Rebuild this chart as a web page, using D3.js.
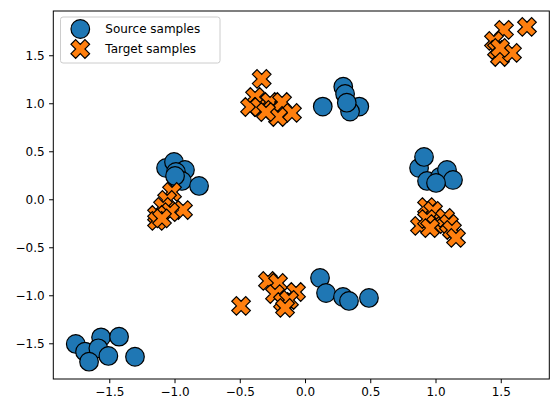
<!DOCTYPE html>
<html>
<head>
<meta charset="utf-8">
<script src="https://cdn.jsdelivr.net/npm/d3@7"></script>
<style>
  body { margin: 0; background: #fff; }
  svg { display: block; font-family: "DejaVu Sans", sans-serif; }
</style>
</head>
<body>
<svg id="chart" width="559" height="413"></svg>
<script>
// source samples (blue circles)
const sourceX = [-1.757, -1.563, -1.425, -1.686, -1.584, -1.507, -1.655, -1.303,
                 -1.065, -1.004, -0.920, -0.989, -0.973, -0.943, -0.812, -0.996,
                 0.136, 0.293, 0.307, 0.416, 0.345, 0.320,
                 0.874, 0.912, 0.935, 1.034, 1.088, 1.134, 1.004,
                 0.115, 0.161, 0.291, 0.337, 0.490];
const sourceY = [-1.507, -1.438, -1.431, -1.587, -1.552, -1.632, -1.692, -1.640,
                 0.326, 0.389, 0.305, 0.284, 0.211, 0.191, 0.139, 0.243,
                 0.965, 1.173, 1.097, 0.965, 0.913, 1.006,
                 0.326, 0.441, 0.191, 0.232, 0.305, 0.201, 0.170,
                 -0.820, -0.976, -1.018, -1.059, -1.028];

// target samples (orange X)
const targetX = [-1.019, -1.057, -1.088, -0.935, -1.034, -1.134, -1.134, -1.096,
                 -0.332, -0.383, -0.421, -0.345, -0.268, -0.245, -0.176, -0.100, -0.207, -0.299,
                 0.935, 0.981, 0.881, 0.935, 1.004, 1.073, 1.103, 1.126, 1.157, 0.958,
                 -0.490, -0.284, -0.207, -0.069, -0.230, -0.169, -0.123, -0.153,
                 1.701, 1.525, 1.448, 1.471, 1.494, 1.586, 1.494];
const targetY = [0.076, -0.007, -0.080, -0.112, -0.134, -0.164, -0.226, -0.200,
                 1.253, 1.065, 0.961, 0.961, 1.013, 0.930, 1.013, 0.899, 0.857, 0.909,
                 -0.081, -0.122, -0.278, -0.206, -0.258, -0.195, -0.257, -0.320, -0.403, -0.300,
                 -1.111, -0.851, -0.872, -0.966, -0.987, -1.070, -1.049, -1.132,
                 1.795, 1.764, 1.649, 1.555, 1.482, 1.524, 1.576];

const xTicks = [-1.5, -1.0, -0.5, 0.0, 0.5, 1.0, 1.5];
const yTicks = [-1.5, -1.0, -0.5, 0.0, 0.5, 1.0, 1.5];
const legendLabels = ["Source samples", "Target samples"];

const svg = d3.select('#chart');
const box = { left: 53.3, right: 549.3, top: 11, bottom: 379 };

const x = d3.scaleLinear().domain([-1.929, 1.872]).range([box.left, box.right]);
const y = d3.scaleLinear().domain([-1.872, 1.961]).range([box.bottom, box.top]);

const blue = '#1f77b4', orange = '#ff7f0e';
const r = 9.3;      // marker radius in px
const u = r / 2;    // unit for the filled X polygon

// matplotlib's filled X marker outline
const xShape = [[-1, -2], [0, -1], [1, -2], [2, -1], [1, 0], [2, 1], [1, 2], [0, 1], [-1, 2], [-2, 1], [-1, 0], [-2, -1]];
const xPath = 'M' + xShape.map(p => (p[0] * u).toFixed(2) + ',' + (p[1] * u).toFixed(2)).join('L') + 'Z';

const fmt = d3.format('.1f');
const minus = s => s.replace('-', '\u2212');

// x axis
const xAxis = svg.append('g')
    .attr('transform', `translate(0,${box.bottom})`)
    .call(d3.axisBottom(x).tickValues(xTicks).tickSize(4.2).tickPadding(4.5).tickFormat(d => minus(fmt(d))));
xAxis.select('.domain').remove();
xAxis.selectAll('text').attr('font-size', 12).attr('fill', '#000').attr('font-family', 'DejaVu Sans');
xAxis.selectAll('line').attr('stroke', '#000').attr('stroke-width', 1);

// y axis
const yAxis = svg.append('g')
    .attr('transform', `translate(${box.left},0)`)
    .call(d3.axisLeft(y).tickValues(yTicks).tickSize(4.2).tickPadding(4.5).tickFormat(d => minus(fmt(d))));
yAxis.select('.domain').remove();
yAxis.selectAll('text').attr('font-size', 12).attr('fill', '#000').attr('font-family', 'DejaVu Sans');
yAxis.selectAll('line').attr('stroke', '#000').attr('stroke-width', 1);

// points
const plot = svg.append('g');
plot.selectAll('.src')
    .data(d3.range(sourceX.length))
    .enter()
    .append('circle')
    .attr('class', 'src')
    .attr('cx', i => x(sourceX[i]))
    .attr('cy', i => y(sourceY[i]))
    .attr('r', r)
    .attr('fill', blue)
    .attr('stroke', '#000')
    .attr('stroke-width', 1.2);

plot.selectAll('.tgt')
    .data(d3.range(targetX.length))
    .enter()
    .append('path')
    .attr('class', 'tgt')
    .attr('d', xPath)
    .attr('transform', i => `translate(${x(targetX[i])},${y(targetY[i])})`)
    .attr('fill', orange)
    .attr('stroke', '#000')
    .attr('stroke-width', 1.2)
    .attr('stroke-linejoin', 'miter');

// frame
svg.append('rect')
    .attr('x', box.left)
    .attr('y', box.top)
    .attr('width', box.right - box.left)
    .attr('height', box.bottom - box.top)
    .attr('fill', 'none')
    .attr('stroke', '#000')
    .attr('stroke-width', 1);

// legend
const legend = svg.append('g');
legend.append('rect')
    .attr('x', 60.5)
    .attr('y', 17)
    .attr('width', 159.5)
    .attr('height', 46)
    .attr('rx', 2.5)
    .attr('fill', '#fff')
    .attr('fill-opacity', 0.8)
    .attr('stroke', '#cccccc')
    .attr('stroke-width', 1);

legend.append('circle')
    .attr('cx', 80.3)
    .attr('cy', 29)
    .attr('r', r)
    .attr('fill', blue)
    .attr('stroke', '#000')
    .attr('stroke-width', 1.2);

legend.append('path')
    .attr('d', xPath)
    .attr('transform', 'translate(80.3,49)')
    .attr('fill', orange)
    .attr('stroke', '#000')
    .attr('stroke-width', 1.2);

legend.selectAll('.lab')
    .data(legendLabels)
    .enter()
    .append('text')
    .attr('class', 'lab')
    .attr('x', 105.3)
    .attr('y', (d, i) => 29 + i * 20)
    .attr('dy', '0.35em')
    .attr('font-size', 12)
    .attr('fill', '#000')
    .text(d => d);
</script>
</body>
</html>
